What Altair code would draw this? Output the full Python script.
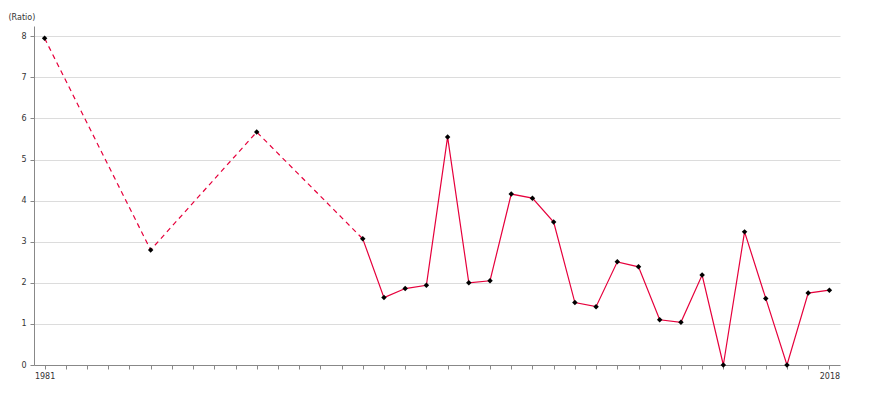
import altair as alt
import pandas as pd

years = [1981, 1986, 1991, 1996, 1997, 1998, 1999, 2000, 2001, 2002, 2003, 2004,
         2005, 2006, 2007, 2008, 2009, 2010, 2011, 2012, 2013, 2014, 2015, 2016, 2017, 2018]
ratio = [7.95, 2.80, 5.67, 3.07, 1.64, 1.86, 1.94, 5.55, 2.00, 2.05, 4.16, 4.06,
         3.48, 1.52, 1.42, 2.51, 2.39, 1.10, 1.04, 2.19, 0.0, 3.24, 1.62, 0.0, 1.75, 1.82]
tick_years = list(range(1981, 2019))
y_ticks = [0, 1, 2, 3, 4, 5, 6, 7, 8]

df = pd.DataFrame({"year": years, "ratio": ratio})
df_dash = df[df["year"] <= 1996]
df_solid = df[df["year"] >= 1996]

RED = "#e6003c"

x = alt.X("year:Q", scale=alt.Scale(domain=[1980.5, 2018.5], nice=False, zero=False),
          axis=alt.Axis(values=tick_years, format="d", grid=False, title=None,
                        labelExpr="(datum.value == 1981 || datum.value == 2018) ? datum.label : ''",
                        tickSize=4, labelPadding=3, domainColor="#888", tickColor="#888",
                        labelFlush=False))
y = alt.Y("ratio:Q", scale=alt.Scale(domain=[0, 8.25], nice=False),
          axis=alt.Axis(values=y_ticks, title="(Ratio)", titleAngle=0, titleX=-26, titleY=-9,
                        titleAlign="left", titleBaseline="middle", titleFontWeight="normal",
                        titleFontSize=8, titleColor="#333", grid=True, gridColor="#dcdcdc",
                        tickSize=4, labelPadding=4, domainColor="#888", tickColor="#888"))

dash = alt.Chart(df_dash).mark_line(color=RED, strokeDash=[5, 4], strokeWidth=1.2).encode(x=x, y=y)
solid = alt.Chart(df_solid).mark_line(color=RED, strokeWidth=1.2).encode(x=x, y=y)
pts = alt.Chart(df).mark_point(shape="diamond", filled=True, color="black", size=30, opacity=1).encode(x=x, y=y)

chart = (dash + solid + pts).properties(
    width=806, height=339,
    autosize=alt.AutoSizeParams(type="none"),
    padding={"left": 26, "top": 18, "right": 16, "bottom": 20},
).configure_view(stroke=None).configure_axis(
    labelFont="DejaVu Sans", labelFontSize=8, labelColor="#333", titleFont="DejaVu Sans"
)

chart.save("out.html", embed_options={"renderer": "svg", "actions": False})
